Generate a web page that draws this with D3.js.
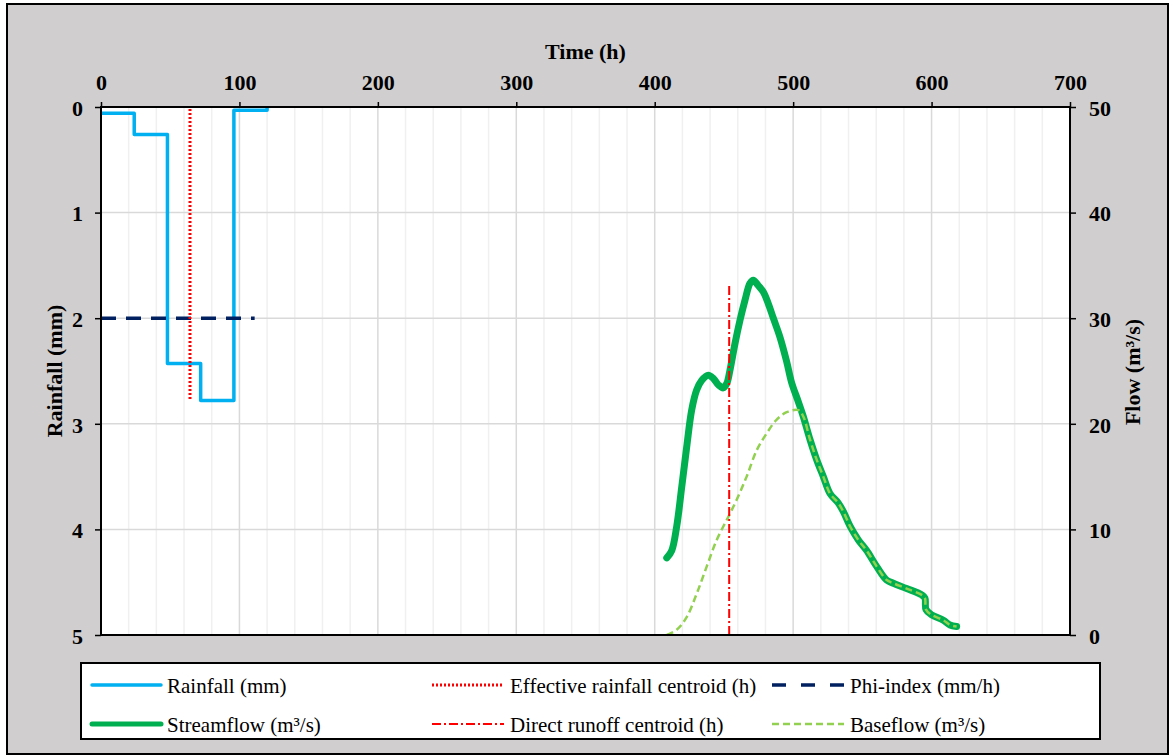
<!DOCTYPE html>
<html lang="en">
<head>
  <meta charset="UTF-8">
  <title>Rainfall and Streamflow</title>
  <style>
    body { margin: 0; background: #fff; }
  </style>
</head>
<body>
<svg></svg>
<script src="https://cdnjs.cloudflare.com/ajax/libs/d3/7.8.5/d3.min.js"></script>
<script>

  // rainfall hyetograph (step values, mm) at the start of each interval
  let rainTime = [0, 24, 48, 72, 96, 120];
  let rainValue = [0.06, 0.26, 2.43, 2.78, 0.03, 0];

  // phi-index and centroids
  let phiIndex = 2;
  let phiRange = [0, 111];
  let effRainCentroid = 64.3;
  let effRainRange = [0.02, 2.78];
  let directRunoffCentroid = 453.8;
  let directRunoffRange = [0, 33.3];

  // streamflow hydrograph (h, m3/s)
  let flowTime = [408.7, 412.3, 415.9, 419.5, 423.1, 426.7, 430.3, 433.9, 438.7, 442.3, 445.9, 449.5,
    452.0, 454.4, 458.0, 461.6, 465.2, 468.8, 471.2, 474.8, 478.4, 482.0, 485.7, 490.5, 495.3,
    498.9, 503.7, 507.3, 512.2, 517.0, 521.8, 526.6, 532.6, 536.2, 541.1, 547.1, 553.1, 560.3,
    567.6, 572.4, 582.0, 592.9, 595.2, 596.0, 600.1, 608.5, 613.3, 618.1];
  let flowValue = [7.3, 8.0, 10.3, 14.0, 17.8, 21.3, 23.2, 24.1, 24.6, 24.3, 23.7, 23.4,
    23.8, 25.1, 27.6, 29.8, 31.7, 33.3, 33.6, 33.1, 32.5, 31.4, 30.0, 28.2, 25.9,
    23.9, 22.1, 20.7, 18.5, 16.6, 15.0, 13.4, 12.5, 11.7, 10.3, 9.0, 8.0, 6.5,
    5.2, 4.9, 4.4, 3.8, 3.5, 2.4, 1.9, 1.4, 0.95, 0.8];

  // baseflow (h, m3/s)
  let baseTime = [408.7, 415.9, 423.1, 430.3, 437.6, 444.8, 453.2, 459.2, 466.4, 473.7, 480.9,
    488.1, 495.3, 503.7, 507.3, 512.2, 517.0, 521.8, 526.6, 532.6, 536.2, 541.1, 547.1, 553.1,
    560.3, 567.6, 572.4, 582.0, 592.9, 595.2, 596.0, 600.1, 608.5, 613.3, 618.1];
  let baseValue = [0, 0.5, 1.7, 3.9, 6.5, 9.0, 11.2, 12.8, 15.0, 17.5, 19.1,
    20.4, 21.1, 21.3, 20.7, 18.5, 16.6, 15.0, 13.4, 12.5, 11.7, 10.3, 9.0, 8.0,
    6.5, 5.2, 4.9, 4.4, 3.8, 3.5, 2.4, 1.9, 1.4, 0.95, 0.8];

  let timeTicks = [0, 100, 200, 300, 400, 500, 600, 700];
  let rainTicks = [0, 1, 2, 3, 4, 5];
  let flowTicks = [0, 10, 20, 30, 40, 50];

  let legendItems = [
    { label: 'Rainfall (mm)', key: 'rain' },
    { label: 'Effective rainfall centroid (h)', key: 'eff' },
    { label: 'Phi-index (mm/h)', key: 'phi' },
    { label: 'Streamflow (m³/s)', key: 'flow' },
    { label: 'Direct runoff centroid (h)', key: 'dro' },
    { label: 'Baseflow (m³/s)', key: 'base' }
  ];

  let styles = {
    rain: { stroke: '#00b0f0', width: 3.5, dash: null },
    eff: { stroke: '#ff0000', width: 3, dash: '2,2' },
    phi: { stroke: '#002060', width: 3.5, dash: '15,10' },
    flow: { stroke: '#00b050', width: 7, dash: null },
    dro: { stroke: '#ff0000', width: 2, dash: '9,3,2,3' },
    base: { stroke: '#92d050', width: 2.5, dash: '7,4' }
  };

  let serif = "'Liberation Serif'";

  let width = 1169,
    height = 756;
  let plot = { left: 101, right: 1070, top: 107, bottom: 635 };

  let svg = d3.select('svg')
    .attr('width', width)
    .attr('height', height);

  // chart background
  svg.append('rect')
    .attr('x', 7).attr('y', 4)
    .attr('width', 1161).attr('height', 750)
    .attr('fill', '#d0cece')
    .attr('stroke', '#000')
    .attr('stroke-width', 2);

  let x = d3.scaleLinear().domain([0, 700]).range([plot.left, plot.right]);
  let yRain = d3.scaleLinear().domain([0, 5]).range([plot.top, plot.bottom]);
  let yFlow = d3.scaleLinear().domain([0, 50]).range([plot.bottom, plot.top]);

  svg.append('rect')
    .attr('x', plot.left).attr('y', plot.top)
    .attr('width', plot.right - plot.left).attr('height', plot.bottom - plot.top)
    .attr('fill', '#fff');

  // grid: minor vertical every 20 h, major every 100 h, horizontal every 1 mm
  let grid = svg.append('g');
  grid.selectAll('.minor')
    .data(d3.range(20, 700, 20).filter(d => d % 100 !== 0))
    .enter().append('line')
    .attr('x1', d => x(d)).attr('x2', d => x(d))
    .attr('y1', plot.top).attr('y2', plot.bottom)
    .attr('stroke', '#f0f0f0').attr('stroke-width', 1.5);
  grid.selectAll('.major')
    .data(timeTicks.slice(1, -1))
    .enter().append('line')
    .attr('x1', d => x(d)).attr('x2', d => x(d))
    .attr('y1', plot.top).attr('y2', plot.bottom)
    .attr('stroke', '#d9d9d9').attr('stroke-width', 1.5);
  grid.selectAll('.hmajor')
    .data(rainTicks.slice(1, -1))
    .enter().append('line')
    .attr('x1', plot.left).attr('x2', plot.right)
    .attr('y1', d => yRain(d)).attr('y2', d => yRain(d))
    .attr('stroke', '#d9d9d9').attr('stroke-width', 1.5);

  function styled(sel, key) {
    let s = styles[key];
    sel.attr('fill', 'none')
      .attr('stroke', s.stroke)
      .attr('stroke-width', s.width)
      .attr('stroke-dasharray', s.dash)
      .attr('stroke-linejoin', 'round');
    return sel;
  }

  function font(sel, size, bold) {
    return sel.style('font-family', serif)
      .style('font-size', size + 'px')
      .style('font-weight', bold ? 'bold' : 'normal')
      .attr('fill', '#000');
  }

  // rainfall
  let rainLine = d3.line()
    .x(d => x(d[0])).y(d => yRain(d[1]))
    .curve(d3.curveStepAfter);
  styled(svg.append('path')
    .attr('d', rainLine(d3.zip(rainTime, rainValue))), 'rain');

  // streamflow + baseflow
  let flowLine = d3.line()
    .x(d => x(d[0])).y(d => yFlow(d[1]))
    .curve(d3.curveCatmullRom);
  styled(svg.append('path')
    .attr('d', flowLine(d3.zip(flowTime, flowValue))), 'flow')
    .attr('stroke-linecap', 'round');
  styled(svg.append('path')
    .attr('d', flowLine(d3.zip(baseTime, baseValue))), 'base');

  // phi-index
  styled(svg.append('line')
    .attr('x1', x(phiRange[0])).attr('x2', x(phiRange[1]))
    .attr('y1', yRain(phiIndex)).attr('y2', yRain(phiIndex)), 'phi');

  // centroids
  styled(svg.append('line')
    .attr('x1', x(effRainCentroid)).attr('x2', x(effRainCentroid))
    .attr('y1', yRain(effRainRange[0])).attr('y2', yRain(effRainRange[1])), 'eff');
  styled(svg.append('line')
    .attr('x1', x(directRunoffCentroid)).attr('x2', x(directRunoffCentroid))
    .attr('y1', yFlow(directRunoffRange[0])).attr('y2', yFlow(directRunoffRange[1])), 'dro');

  // plot border
  svg.append('rect')
    .attr('x', plot.left).attr('y', plot.top)
    .attr('width', plot.right - plot.left).attr('height', plot.bottom - plot.top)
    .attr('fill', 'none').attr('stroke', '#000').attr('stroke-width', 2);

  // axes
  let topAxis = svg.append('g')
    .attr('transform', `translate(0,${plot.top})`)
    .call(d3.axisTop(x).tickValues(timeTicks).tickSize(5).tickPadding(12).tickFormat(d3.format('d')));
  let leftAxis = svg.append('g')
    .attr('transform', `translate(${plot.left},0)`)
    .call(d3.axisLeft(yRain).tickValues(rainTicks).tickSize(6).tickPadding(12).tickFormat(d3.format('d')));
  let rightAxis = svg.append('g')
    .attr('transform', `translate(${plot.right},0)`)
    .call(d3.axisRight(yFlow).tickValues(flowTicks).tickSize(6).tickPadding(13).tickFormat(d3.format('d')));

  for (let a of [topAxis, leftAxis, rightAxis]) {
    a.select('.domain').remove();
    a.selectAll('.tick line').attr('stroke', '#000').attr('stroke-width', 1.5);
    font(a.selectAll('.tick text'), 22, true);
  }
  leftAxis.selectAll('.tick text').attr('dy', '0.38em');
  rightAxis.selectAll('.tick text').attr('dy', '0.38em');

  font(svg.append('text'), 22, true)
    .attr('x', (plot.left + plot.right) / 2)
    .attr('y', 59)
    .attr('text-anchor', 'middle')
    .text('Time (h)');

  font(svg.append('text'), 22, true)
    .attr('transform', 'translate(62,371) rotate(-90)')
    .attr('text-anchor', 'middle')
    .text('Rainfall (mm)');

  font(svg.append('text'), 22, true)
    .attr('transform', 'translate(1140,372) rotate(-90)')
    .attr('text-anchor', 'middle')
    .text('Flow (m³/s)');

  // legend
  let legend = svg.append('g');
  legend.append('rect')
    .attr('x', 81).attr('y', 663)
    .attr('width', 1019).attr('height', 76)
    .attr('fill', '#fff').attr('stroke', '#000').attr('stroke-width', 2);

  let colX = [92, 432, 772];
  let rowY = [685, 724];
  legendItems.forEach((item, i) => {
    let lx = colX[i % 3];
    let ly = rowY[Math.floor(i / 3)];
    let len = i % 3 === 0 ? 69 : 72;
    styled(legend.append('line')
      .attr('x1', lx).attr('x2', lx + len)
      .attr('y1', ly).attr('y2', ly), item.key)
      .attr('stroke-width', item.key === 'flow' ? 5 : styles[item.key].width)
      .attr('stroke-dasharray', item.key === 'phi' ? '14,15' : styles[item.key].dash)
      .attr('stroke-linecap', item.key === 'rain' || item.key === 'flow' ? 'round' : null);
    font(legend.append('text'), 21, false)
      .attr('x', lx + len + 6)
      .attr('y', ly + 8)
      .text(item.label);
  });
</script>
</body>
</html>
